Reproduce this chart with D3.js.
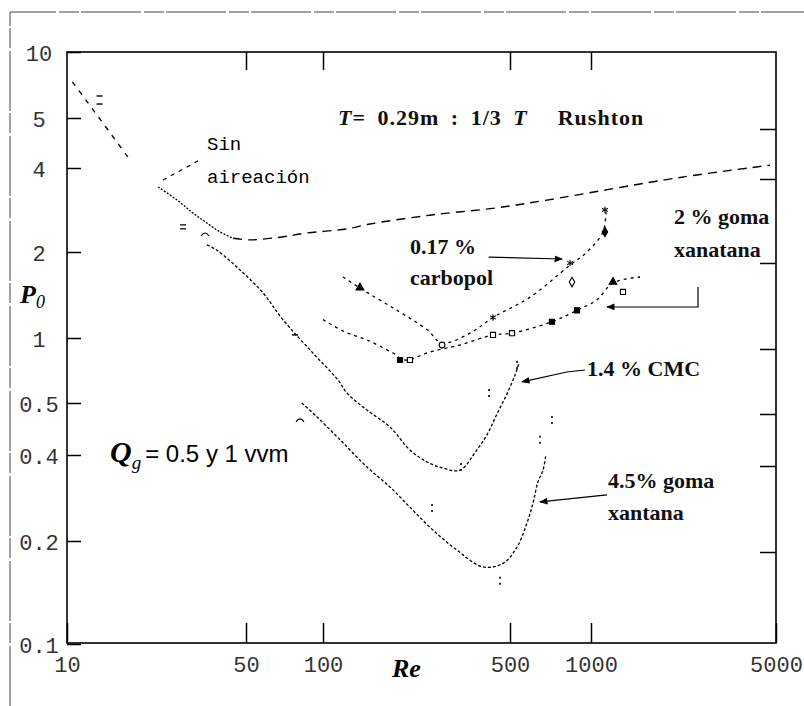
<!DOCTYPE html>
<html>
<head>
<meta charset="utf-8">
<script src="https://cdn.jsdelivr.net/npm/d3@7/dist/d3.min.js"></script>
<style>
  body { margin: 0; background: #fff; }
  svg { display: block; }
  .tick text { font-family: "Liberation Mono", monospace; font-size: 22px; fill: #333; }
  .lbl { font-family: "Liberation Serif", serif; font-weight: bold; font-size: 22px; fill: #111; }
</style>
</head>
<body>
<svg id="chart" width="804" height="706"></svg>
<script>
// ---- axis ticks ----
const xTicks = [10, 50, 100, 500, 1000, 5000];
const yTicks = [0.1, 0.2, 0.4, 0.5, 1, 2, 4, 5, 10];
const yTickLabels = ["0.1", "0.2", "0.4", "0.5", "1", "2", "4", "5", "10"];

// ---- curves: Reynolds number vs power number ----
// no-aeration curve, laminar part (upper left)
const laminarRe = [10.5, 11.9, 17.3];
const laminarP  = [7.3, 6.0, 4.2];
// no-aeration curve
const sinAirRe = [22.7, 26.9, 31.0, 35.2, 39.6, 44.5, 51.8, 67.9, 86.5, 122.9, 149.9, 251, 447, 686, 2170, 4745];
const sinAirP  = [3.42, 3.07, 2.76, 2.54, 2.36, 2.24, 2.21, 2.26, 2.34, 2.42, 2.52, 2.71, 2.88, 3.07, 3.70, 4.05];
const sinAirPtsRe = [13.4, 13.4, 28.4, 34.6];
const sinAirPtsP  = [6.30, 5.79, 2.46, 2.30];
// 1.4 % CMC
const cmcRe = [35.2, 38.5, 47.4, 58.2, 69.7, 91.3, 113.8, 122.9, 146, 178, 211, 245, 281, 325, 376, 410, 447, 487, 522, 540];
const cmcP  = [2.12, 2.03, 1.73, 1.44, 1.16, 0.852, 0.639, 0.556, 0.485, 0.451, 0.409, 0.378, 0.360, 0.354, 0.409, 0.436, 0.477, 0.551, 0.674, 0.766];
const cmcPtsRe = [77.7, 328, 417.5, 531];
const cmcPtsP  = [1.025, 0.363, 0.556, 0.75];
// 4.5 % goma xantana
const goma45Re = [82.7, 94.7, 115.8, 146, 178, 211, 258, 317, 396, 471, 531, 578, 609, 635, 663, 680];
const goma45P  = [0.500, 0.471, 0.427, 0.363, 0.309, 0.263, 0.218, 0.188, 0.168, 0.172, 0.192, 0.231, 0.272, 0.322, 0.354, 0.400];
const goma45PtsRe = [81.3, 255.6, 459, 646, 716];
const goma45PtsP  = [0.463, 0.261, 0.153, 0.427, 0.465];
// 0.17 % carbopol
const carbopolRe = [118.8, 139.9, 189, 244.8, 278.6, 354.5, 432, 593.5, 836, 966, 1110, 1139];
const carbopolP  = [1.635, 1.48, 1.25, 1.07, 0.948, 1.04, 1.18, 1.39, 1.80, 2.0, 2.36, 2.78];
const carbopolPtsRe = [137.5, 278.6, 432, 836, 850, 1129, 1129];
const carbopolPtsP  = [1.50, 0.928, 1.18, 1.83, 1.57, 2.36, 2.83];
// 2 % goma xanatana
const goma2Re = [100, 120.8, 146, 182.7, 202.6, 251, 325, 432, 508.6, 716, 887, 1053, 1211, 1532];
const goma2P  = [1.16, 1.05, 0.979, 0.852, 0.791, 0.861, 0.928, 1.025, 1.04, 1.14, 1.25, 1.36, 1.56, 1.635];
const goma2PtsRe = [194, 211.4, 432, 508.6, 716, 887, 1211, 1321];
const goma2PtsP  = [0.791, 0.791, 1.025, 1.04, 1.14, 1.25, 1.57, 1.45];

const zip = (a, b) => a.map((v, i) => [v, b[i]]);

// ---- scales: the printed log axes have slightly uneven tick spacing ----
const x = d3.scaleLog().domain(xTicks).range([67, 246, 323, 510, 591, 776]);
const y = d3.scaleLog().domain(yTicks).range([644, 541, 455, 403, 338, 252, 168, 118, 52]);
const X0 = 67, X1 = 776, Y0 = 52, Y1 = 643;

const svg = d3.select("#chart");

// outer border of the figure
svg.append("path").attr("d", "M10,706 V12 H804")
  .attr("fill", "none").attr("stroke", "#444").attr("stroke-width", 1)
  .attr("stroke-dasharray", "60,3,20,2");

// plot frame
svg.append("rect").attr("x", X0).attr("y", Y0).attr("width", X1 - X0).attr("height", Y1 - Y0)
  .attr("fill", "none").attr("stroke", "#000").attr("stroke-width", 1.6);

const noDomain = g => g.select(".domain").remove();

// bottom axis with labels
svg.append("g").attr("transform", `translate(0,${Y1})`)
  .call(d3.axisBottom(x).tickValues(xTicks).tickFormat(d3.format("d"))
    .tickSizeInner(-20).tickSizeOuter(0).tickPadding(13))
  .call(noDomain);
// top axis, marks only
svg.append("g").attr("transform", `translate(0,${Y0})`)
  .call(d3.axisTop(x).tickValues(xTicks.slice(1, -1)).tickFormat("")
    .tickSizeInner(-18).tickSizeOuter(0))
  .call(noDomain);
// left axis with labels
svg.append("g").attr("transform", `translate(${X0},0)`)
  .call(d3.axisLeft(y).tickValues(yTicks).tickFormat(d => yTickLabels[yTicks.indexOf(d)])
    .tickSizeInner(-14).tickSizeOuter(0))
  .call(noDomain)
  .call(g => g.selectAll("text").attr("x", -28).attr("text-anchor", "middle").attr("dy", "0.38em"));
// right axis, marks only (drawn a little lower on the printed frame)
svg.append("g").attr("transform", `translate(${X1},11)`)
  .call(d3.axisRight(y).tickValues(yTicks.slice(1, -1)).tickFormat("")
    .tickSizeInner(-16).tickSizeOuter(0))
  .call(noDomain);

svg.selectAll(".tick line").attr("stroke", "#000").attr("stroke-width", 1.5);

// ---- curves ----
const line = d3.line().x(d => x(d[0])).y(d => y(d[1])).curve(d3.curveCatmullRom.alpha(0.5));
const curves = svg.append("g").attr("fill", "none").attr("stroke", "#000");

function drawCurve(data, dash, width) {
  curves.append("path").attr("d", line(data))
    .attr("stroke-dasharray", dash).attr("stroke-width", width);
}
drawCurve(zip(laminarRe, laminarP), "5,6", 1.4);
const sinAir = zip(sinAirRe, sinAirP);
drawCurve(sinAir.slice(0, 6), "2,1.5", 1.3);
drawCurve(sinAir.slice(5), "9,6", 1.4);
drawCurve(zip(cmcRe, cmcP), "3,2", 1.3);
drawCurve(zip(goma45Re, goma45P), "3,2", 1.3);
drawCurve(zip(carbopolRe, carbopolP), "3,4", 1.3);
drawCurve(zip(goma2Re, goma2P), "3,4", 1.3);

// ---- data markers ----
const marks = svg.append("g");
function drawMarks(re, p, kinds) {
  re.forEach((v, i) => {
    const k = kinds[i % kinds.length];
    const cx = x(v), cy = y(p[i]);
    const g = marks.append("g").attr("transform", `translate(${cx},${cy})`);
    if (k === "dash") {
      g.append("line").attr("x1", -3).attr("x2", 3).attr("stroke", "#000").attr("stroke-width", 1.4);
    } else if (k === "eq") {
      g.append("path").attr("d", "M-3,-2H3M-3,2H3").attr("stroke", "#000").attr("stroke-width", 1.2);
    } else if (k === "arc") {
      g.append("path").attr("d", "M-4,1 Q0,-5 4,1").attr("fill", "none").attr("stroke", "#000").attr("stroke-width", 1.1);
    } else if (k === "colon") {
      g.append("path").attr("d", "M0,-4V-2M0,2V4").attr("stroke", "#000").attr("stroke-width", 1.6);
    } else {
      const type = { sq: d3.symbolSquare, tri: d3.symbolTriangle, circ: d3.symbolCircle,
        star: d3.symbolAsterisk, dia: d3.symbolDiamond }[k.replace(/O$/, "")];
      const open = /O$/.test(k);
      g.append("path").attr("d", d3.symbol(type, type === d3.symbolAsterisk ? 30 : 26)())
        .attr("fill", open ? "#fff" : "#000").attr("stroke", "#000").attr("stroke-width", 1.1);
    }
  });
}
drawMarks(sinAirPtsRe, sinAirPtsP, ["dash", "dash", "eq", "arc"]);
drawMarks(cmcPtsRe, cmcPtsP, ["dash", "colon", "colon", "colon"]);
drawMarks(goma45PtsRe, goma45PtsP, ["arc", "colon", "colon", "colon", "colon"]);
drawMarks(carbopolPtsRe, carbopolPtsP, ["tri", "circO", "star", "star", "diaO", "dia", "star"]);
drawMarks(goma2PtsRe, goma2PtsP, ["sq", "sqO", "sqO", "sqO", "sq", "sq", "tri", "sqO"]);

// ---- leader lines ----
const defs = svg.append("defs");
defs.append("marker").attr("id", "head").attr("viewBox", "0 0 10 10").attr("refX", 9).attr("refY", 5)
  .attr("markerWidth", 7).attr("markerHeight", 7).attr("orient", "auto-start-reverse")
  .append("path").attr("d", "M0,1 L10,5 L0,9 Z").attr("fill", "#000");
const lead = d3.line().x(d => x(d[0])).y(d => y(d[1]));
const leaders = svg.append("g").attr("fill", "none").attr("stroke", "#000").attr("stroke-width", 1.2);
leaders.append("path").attr("d", lead([[23.7, 3.62], [32.5, 4.13]])).attr("stroke-dasharray", "4,5");
leaders.append("path").attr("d", lead([[416, 1.92], [781, 1.89]])).attr("marker-end", "url(#head)");
leaders.append("path").attr("d", lead([[2537, 1.508], [2537, 1.284], [1149, 1.284]])).attr("marker-end", "url(#head)");
leaders.append("path").attr("d", lead([[950, 0.711], [814, 0.696], [554, 0.626]])).attr("marker-end", "url(#head)");
leaders.append("path").attr("d", lead([[1149, 0.290], [646, 0.274]])).attr("marker-end", "url(#head)");

// ---- text ----
const T = svg.append("g");
const title = T.append("text").attr("class", "lbl").attr("x", 338).attr("y", 125)
  .attr("font-size", 23).attr("letter-spacing", 1).attr("word-spacing", 5);
title.append("tspan").attr("font-style", "italic").text("T");
title.append("tspan").text("= 0.29m : 1/3 ");
title.append("tspan").attr("font-style", "italic").text("T");
title.append("tspan").attr("dx", 30).text("Rushton");

T.append("text").attr("x", 207).attr("y", 150).attr("font-family", "Liberation Mono, monospace")
  .attr("font-size", 19).text("Sin");
T.append("text").attr("x", 207).attr("y", 183).attr("font-family", "Liberation Mono, monospace")
  .attr("font-size", 19).text("aireación");

T.append("text").attr("class", "lbl").attr("x", 410).attr("y", 254).text("0.17 %");
T.append("text").attr("class", "lbl").attr("x", 410).attr("y", 285).text("carbopol");
T.append("text").attr("class", "lbl").attr("x", 674).attr("y", 224).text("2 % goma");
T.append("text").attr("class", "lbl").attr("x", 674).attr("y", 257).text("xanatana");
T.append("text").attr("class", "lbl").attr("x", 587).attr("y", 376).text("1.4 % CMC");
T.append("text").attr("class", "lbl").attr("x", 608).attr("y", 488).text("4.5% goma");
T.append("text").attr("class", "lbl").attr("x", 608).attr("y", 520).text("xantana");

const q = T.append("text").attr("x", 110).attr("y", 462);
q.append("tspan").attr("font-family", "Liberation Serif, serif").attr("font-style", "italic")
  .attr("font-weight", "bold").attr("font-size", 30).text("Q");
q.append("tspan").attr("font-family", "Liberation Serif, serif").attr("font-style", "italic")
  .attr("font-size", 19).attr("dy", 7).text("g");
q.append("tspan").attr("font-family", "Liberation Sans, sans-serif").attr("font-size", 24)
  .attr("dy", -7).attr("dx", 4).text("= 0.5 y 1 vvm");

const p0 = T.append("text").attr("x", 20).attr("y", 303);
p0.append("tspan").attr("font-family", "Liberation Serif, serif").attr("font-style", "italic")
  .attr("font-weight", "bold").attr("font-size", 26).text("P");
p0.append("tspan").attr("font-family", "Liberation Serif, serif").attr("font-style", "italic")
  .attr("font-size", 18).attr("dy", 5).text("0");

T.append("text").attr("x", 392).attr("y", 677).attr("font-family", "Liberation Serif, serif")
  .attr("font-style", "italic").attr("font-weight", "bold").attr("font-size", 26).text("Re");
</script>
</body>
</html>
